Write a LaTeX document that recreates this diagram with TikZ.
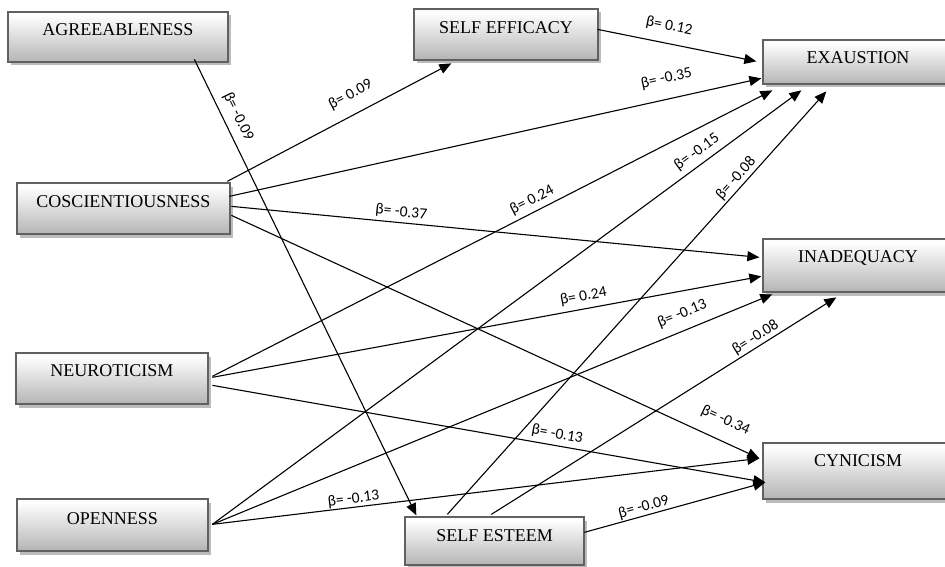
\documentclass[tikz,border=0pt]{standalone}
\usepackage{fontspec}
\setmainfont{Liberation Serif}
\newfontfamily\lblfont{Carlito}
\usetikzlibrary{arrows.meta,shadows,calc}
\pgfdeclareverticalshading{boxshade}{100bp}{color(0bp)=(black!50); color(30bp)=(black!26); color(72bp)=(white); color(100bp)=(black!14)}
\begin{document}
\begin{tikzpicture}[x=1pt,y=-1pt,
  box/.style={draw=black!62, line width=1.3pt, shading=boxshade,
    drop shadow={shadow xshift=3pt, shadow yshift=-3.5pt, fill=black!35, opacity=0.75},
    inner sep=0pt, font=\fontsize{18}{20}\selectfont, text height=12pt, text depth=#1},
  box/.default=14pt,
  conn/.style={line width=1.1pt, -{Triangle[length=12pt,width=10pt]}},
  lbl/.style={font=\lblfont\fontsize{15.5}{18}\selectfont, sloped, inner sep=0pt, above=#1},
  lbl/.default=5pt]
\clip (0,0) rectangle (945,567);
\fill[white] (0,0) rectangle (945,567);

% boxes
\node[box=15.4pt, minimum width=220pt, minimum height=50pt] (agree) at (118,37) {AGREEABLENESS};
\node[box=14.4pt, minimum width=184pt, minimum height=51pt] (seff) at (506,34.5) {SELF EFFICACY};
\node[box=9.4pt, minimum width=190pt, minimum height=44pt] (exh) at (858,62) {EXAUSTION};
\node[box=18.4pt, minimum width=190pt, minimum height=53pt] (inad) at (858,265.5) {INADEQUACY};
\node[box=20.4pt, minimum width=190pt, minimum height=56pt] (cyn) at (858,471) {CYNICISM};
\node[box=13.4pt, minimum width=213pt, minimum height=51pt] (cosc) at (123.5,208.5) {COSCIENTIOUSNESS};
\node[box=15.4pt, minimum width=192pt, minimum height=51pt] (neuro) at (112,378.5) {NEUROTICISM};
\node[box=12.4pt, minimum width=191pt, minimum height=52pt] (open) at (112.5,525) {OPENNESS};
\node[box=11.4pt, minimum width=179pt, minimum height=48pt] (sest) at (494.5,541) {SELF ESTEEM};

% connectors
\draw[conn] ($(agree.north west)+(187,48)$) -- node[lbl=7pt,pos=0.14]{β= -0.09} ($(sest.north west)+(12,-1)$);
\draw[conn] ($(cosc.north west)+(211,-1)$) -- node[lbl=12pt,pos=0.59]{β= 0.09} ($(seff.north west)+(38,55)$);
\draw[conn] ($(seff.north west)+(184,21)$) -- node[lbl=10pt,pos=0.43]{β= 0.12} ($(exh.north west)+(-6,22)$);
\draw[conn] ($(cosc.north west)+(213,14)$) -- node[lbl=13pt,pos=0.83]{β= -0.35} ($(exh.north west)+(-1,39)$);
\draw[conn] ($(cosc.north west)+(215,24)$) -- node[lbl=3pt,pos=0.32]{β= -0.37} ($(inad.north west)+(-3,19)$);
\draw[conn] ($(cosc.north west)+(215,33)$) -- node[lbl=13pt,pos=0.92]{β= -0.34} ($(cyn.north west)+(-3,16)$);
\draw[conn] ($(neuro.north west)+(197,24)$) -- node[lbl=4pt,pos=0.58]{β= 0.24} ($(exh.north west)+(10,51)$);
\draw[conn] ($(neuro.north west)+(197,25)$) -- node[lbl=5pt,pos=0.68]{β= 0.24} ($(inad.north west)+(-1,38)$);
\draw[conn] ($(neuro.north west)+(197,33)$) -- node[lbl=4pt,pos=0.62]{β= -0.13} ($(cyn.north west)+(3,40)$);
\draw[conn] ($(open.north west)+(196,26)$) -- node[lbl=5pt,pos=0.835]{β= -0.15} ($(exh.north west)+(39,51)$);
\draw[conn] ($(open.north west)+(196,26)$) -- node[lbl=9pt,pos=0.85]{β= -0.13} ($(inad.north west)+(10,56)$);
\draw[conn] ($(open.north west)+(196,26)$) -- node[lbl=1pt,pos=0.26]{β= -0.13} ($(cyn.north west)+(-3,16)$);
\draw[conn] ($(sest.north west)+(43,-2)$) -- node[lbl=2pt,pos=0.78]{β= -0.08} ($(exh.north west)+(64,52)$);
\draw[conn] ($(sest.north west)+(87,-2)$) -- node[lbl=2pt,pos=0.78]{β= -0.08} ($(inad.north west)+(74,59)$);
\draw[conn] ($(sest.north west)+(180,16)$) -- node[lbl=1pt,pos=0.34]{β= -0.09} ($(cyn.north west)+(3,40)$);
\end{tikzpicture}
\end{document}
